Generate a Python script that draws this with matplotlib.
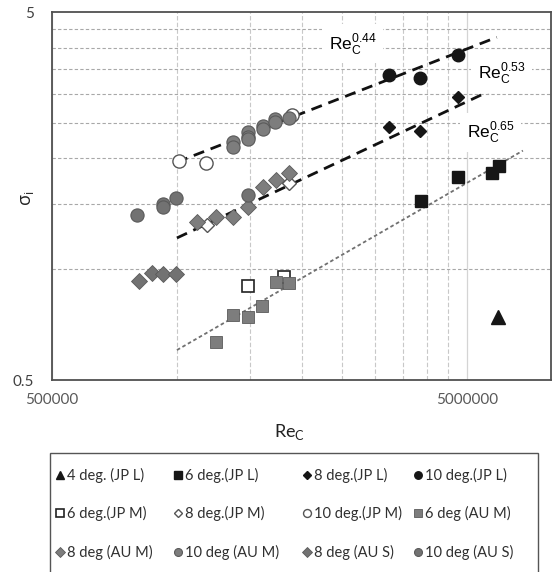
import numpy as np
import matplotlib
matplotlib.use('Agg')
import matplotlib.pyplot as plt
import matplotlib.ticker as mticker
from matplotlib.lines import Line2D
from matplotlib.patches import Rectangle

# ---------------- data (Re_C, sigma_i) ----------------
re_4_jpl = [5.94e6]
s_4_jpl = [0.742]
re_6_jpl = [3.87e6, 4.76e6, 5.74e6, 5.97e6]
s_6_jpl = [1.53, 1.78, 1.83, 1.91]
re_8_jpl = [3.24e6, 3.85e6, 4.76e6]
s_8_jpl = [2.43, 2.38, 2.94]
re_10_jpl = [3.24e6, 3.85e6, 4.76e6]
s_10_jpl = [3.37, 3.31, 3.82]
re_6_jpm = [1.483e6, 1.81e6]
s_6_jpm = [0.90, 0.952]
re_8_jpm = [1.18e6, 1.862e6]
s_8_jpm = [1.318, 1.715]
re_10_jpm = [1.011e6, 1.175e6, 1.893e6]
s_10_jpm = [1.968, 1.944, 2.625]
re_6_aum = [1.242e6, 1.365e6, 1.483e6, 1.603e6, 1.733e6, 1.862e6]
s_6_aum = [0.634, 0.751, 0.742, 0.794, 0.923, 0.917]
re_8_aum = [1.118e6, 1.242e6, 1.365e6, 1.483e6, 1.612e6, 1.733e6, 1.862e6]
s_8_aum = [1.344, 1.386, 1.386, 1.476, 1.673, 1.748, 1.826]
re_10_aum = [1.365e6, 1.365e6, 1.483e6, 1.483e6, 1.483e6, 1.612e6, 1.612e6,
             1.723e6, 1.723e6, 1.862e6]
s_10_aum = [2.217, 2.149, 2.36, 2.287, 2.259, 2.45, 2.405, 2.56, 2.51, 2.576]
re_8_aus = [8.10e5, 8.71e5, 9.26e5, 9.95e5]
s_8_aus = [0.929, 0.977, 0.971, 0.971]
re_10_aus = [8.01e5, 9.26e5, 9.26e5, 9.95e5, 1.483e6]
s_10_aus = [1.404, 1.504, 1.476, 1.562, 1.59]

# power-law trend lines: sigma = coef * (Re/1e6)**exp
fit_exp = [0.44, 0.53, 0.65]
fit_coef = [1.955, 1.216, 0.603]
fit_re_start = [1.0e6, 1.0e6, 1.0e6]
fit_re_end = [5.9e6, 5.68e6, 6.82e6]
fit_label_re = [2.32e6, 5.31e6, 5.0e6]
fit_label_s = [4.1, 3.4, 2.35]

x_ticks = [500000, 5000000]
x_minor = [1.0e6, 1.5e6, 2.0e6, 2.5e6, 3.0e6, 3.5e6, 4.0e6, 4.5e6]
y_ticks = [0.5, 5]
y_minor = [1.0, 1.5, 2.0, 2.5, 3.0, 3.5, 4.0, 4.5]

GRAY = '#7d7d7d'
GRAY_E = '#5a5a5a'
GRAY2 = '#727272'
BLACK = '#161616'

series = [
    ('4 deg. (JP L)', re_4_jpl, s_4_jpl, dict(marker='^', ms=9.5, mfc=BLACK, mec=BLACK)),
    ('6 deg.(JP L)', re_6_jpl, s_6_jpl, dict(marker='s', ms=8.5, mfc=BLACK, mec=BLACK)),
    ('8 deg.(JP L)', re_8_jpl, s_8_jpl, dict(marker='D', ms=6.5, mfc=BLACK, mec=BLACK)),
    ('10 deg.(JP L)', re_10_jpl, s_10_jpl, dict(marker='o', ms=9, mfc=BLACK, mec=BLACK)),
    ('6 deg.(JP M)', re_6_jpm, s_6_jpm, dict(marker='s', ms=9, mfc='white', mec='#222222', mew=1.2)),
    ('8 deg.(JP M)', re_8_jpm, s_8_jpm, dict(marker='D', ms=7.5, mfc='white', mec='#555555', mew=1.0)),
    ('10 deg.(JP M)', re_10_jpm, s_10_jpm, dict(marker='o', ms=9.5, mfc='white', mec='#555555', mew=1.0)),
    ('6 deg (AU M)', re_6_aum, s_6_aum, dict(marker='s', ms=9, mfc=GRAY, mec=GRAY_E, mew=0.6)),
    ('8 deg (AU M)', re_8_aum, s_8_aum, dict(marker='D', ms=8.5, mfc=GRAY, mec=GRAY_E, mew=0.6)),
    ('10 deg (AU M)', re_10_aum, s_10_aum, dict(marker='o', ms=9.5, mfc=GRAY, mec=GRAY_E, mew=0.8)),
    ('8 deg (AU S)', re_8_aus, s_8_aus, dict(marker='D', ms=8.5, mfc=GRAY2, mec=GRAY_E, mew=0.6)),
    ('10 deg (AU S)', re_10_aus, s_10_aus, dict(marker='o', ms=9.5, mfc=GRAY2, mec=GRAY_E, mew=0.8)),
]

W, H = 552, 572
fig = plt.figure(figsize=(W / 100, H / 100), dpi=100)
ax = fig.add_axes([52 / W, (H - 380) / H, (551 - 52) / W, (380 - 12) / H])
ax.set_xscale('log')
ax.set_yscale('log')
ax.set_xlim(5e5, 7.97e6)
ax.set_ylim(0.5, 5)

ax.xaxis.set_major_locator(mticker.FixedLocator(x_ticks))
ax.xaxis.set_minor_locator(mticker.FixedLocator(x_minor))
ax.yaxis.set_major_locator(mticker.FixedLocator(y_ticks))
ax.yaxis.set_minor_locator(mticker.FixedLocator(y_minor))
ax.xaxis.set_major_formatter(mticker.FuncFormatter(lambda v, p: f'{int(round(v))}'))
ax.yaxis.set_major_formatter(mticker.FuncFormatter(lambda v, p: f'{v:g}'))
ax.xaxis.set_minor_formatter(mticker.NullFormatter())
ax.yaxis.set_minor_formatter(mticker.NullFormatter())
ax.tick_params(which='both', length=0)
ax.tick_params(axis='x', pad=9, labelsize=11, labelcolor='#595959')
ax.tick_params(axis='y', pad=13, labelsize=11, labelcolor='#404040')
for lab in ax.get_xticklabels() + ax.get_yticklabels():
    lab.set_fontfamily('Lato')

ax.grid(which='minor', axis='y', color='#a8a8a8', lw=0.8, ls=(0, (3, 2)))
ax.grid(which='minor', axis='x', color='#c8c8c8', lw=0.8, ls=(0, (4, 2)))
ax.grid(which='major', axis='x', color='#d4d4d4', lw=0.9, ls='-')
ax.set_axisbelow(True)
for sp in ax.spines.values():
    sp.set_color('#505050')
    sp.set_linewidth(1.3)

# trend lines
line_styles = [
    dict(color='#111111', lw=2.0, ls=(0, (4, 2.5))),
    dict(color='#111111', lw=2.0, ls=(0, (4, 2.5))),
    dict(color='#707070', lw=1.3, ls=(0, (2, 1.5))),
]
for e, c, r0, r1, st in zip(fit_exp, fit_coef, fit_re_start, fit_re_end, line_styles):
    rr = np.geomspace(r0, r1, 50)
    ax.plot(rr, c * (rr / 1e6) ** e, zorder=2, **st)

for name, xs, ys, st in series:
    ax.plot(xs, ys, ls='none', zorder=3, **st)

for e, lx, ly in zip(fit_exp, fit_label_re, fit_label_s):
    ax.text(lx, ly, r'$\mathdefault{Re}_{\mathdefault{C}}^{\mathdefault{%g}}$' % e,
            fontfamily='Liberation Sans', fontsize=12.5, ha='left', va='center',
            zorder=4, bbox=dict(fc='white', ec='none', pad=5))

fig.text(290 / W, 1 - 432 / H, r'$\mathdefault{Re}_{\mathdefault{C}}$',
         fontfamily='Lato', fontsize=13, ha='center', va='center', color='#222222')
fig.text(27 / W, 1 - 198 / H, r'$\mathdefault{σ}_{\mathdefault{i}}$',
         fontfamily='Open Sans', fontsize=13, ha='center', va='center',
         rotation=90, color='#222222')

# legend box (bottom cut by figure edge)
fig.patches.append(Rectangle((50 / W, -0.05), (538 - 50) / W, (H - 453) / H + 0.05,
                             transform=fig.transFigure, fc='white', ec='#555555', lw=1.0))
col_x = [67, 185, 314, 425]
row_y = [475, 513, 552]
order = [[0, 1, 2, 3], [4, 5, 6, 7], [8, 9, 10, 11]]
for r, row in enumerate(order):
    for c, idx in enumerate(row):
        name, _, _, st = series[idx]
        st2 = dict(st)
        st2['ms'] = st['ms'] * 0.6
        fig.add_artist(Line2D([(col_x[c] - 7) / W], [1 - row_y[r] / H], ls='none',
                              transform=fig.transFigure, **st2))
        fig.text(col_x[c] / W, 1 - row_y[r] / H, name, fontfamily='Lato', fontsize=10.5,
                 ha='left', va='center', color='#303030')

fig.savefig('out.png', dpi=100)
